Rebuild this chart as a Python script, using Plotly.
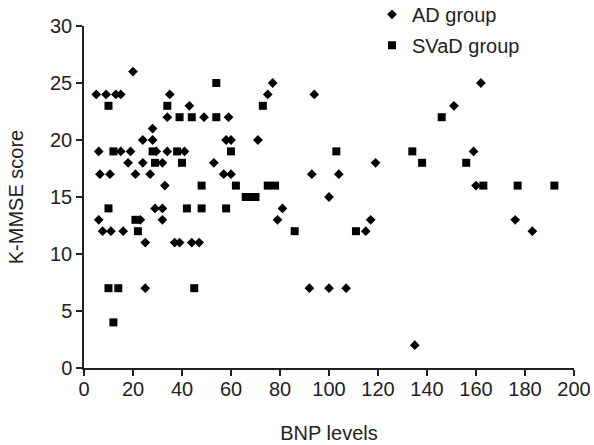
import plotly.graph_objects as go

# AD group (diamonds)
ad_x = [20, 5, 9, 13, 15, 35, 75, 94, 162, 77,
        43, 151,
        34, 49, 59,
        28,
        24, 28, 58, 60, 71,
        6, 15, 19, 29.5, 34, 41, 159,
        18, 24, 32, 53, 119,
        6.5, 10.6, 21, 27, 57, 60, 93, 104,
        33, 160,
        100,
        29, 32, 81,
        6, 23, 32, 79, 117, 176,
        7.6, 11, 16, 115, 183,
        25, 37, 39, 44, 47,
        25, 92, 100, 107,
        135]
ad_y = [26, 24, 24, 24, 24, 24, 24, 24, 25, 25,
        23, 23,
        22, 22, 22,
        21,
        20, 20, 20, 20, 20,
        19, 19, 19, 19, 19, 19, 19,
        18, 18, 18, 18, 18,
        17, 17, 17, 17, 17, 17, 17, 17,
        16, 16,
        15,
        14, 14, 14,
        13, 13, 13, 13, 13, 13,
        12, 12, 12, 12, 12,
        11, 11, 11, 11, 11,
        7, 7, 7, 7,
        2]

# SVaD group (squares)
svad_x = [54,
          10, 34, 73,
          39, 44, 54, 146,
          12, 28, 38, 60, 103, 134,
          29, 40, 138, 156,
          48, 62, 75, 78, 163, 177, 192,
          66, 68, 70,
          10, 42, 48, 58,
          21,
          22, 86, 111,
          10, 14, 45,
          12]
svad_y = [25,
          23, 23, 23,
          22, 22, 22, 22,
          19, 19, 19, 19, 19, 19,
          18, 18, 18, 18,
          16, 16, 16, 16, 16, 16, 16,
          15, 15, 15,
          14, 14, 14, 14,
          13,
          12, 12, 12,
          7, 7, 7,
          4]

x_ticks = list(range(0, 201, 20))
y_ticks = list(range(0, 31, 5))

font = dict(family="Liberation Sans, Arial, sans-serif", size=20, color="#222222")

fig = go.Figure()
fig.add_trace(go.Scatter(x=ad_x, y=ad_y, mode="markers", name="AD group",
                         legendgroup="ad",
                         marker=dict(symbol="diamond", size=7.5, color="black")))
fig.add_trace(go.Scatter(x=svad_x, y=svad_y, mode="markers", name="SVaD group",
                         legendgroup="svad",
                         marker=dict(symbol="square", size=8, color="black")))

fig.update_layout(
    width=594, height=445,
    margin=dict(l=84, r=20, t=0, b=77, autoexpand=False),
    paper_bgcolor="white", plot_bgcolor="white",
    font=font,
    showlegend=True,
    legend=dict(x=(372 - 84) / 490, y=1.014, xanchor="left", yanchor="top",
                bgcolor="rgba(0,0,0,0)", font=font,
                tracegroupgap=2, traceorder="grouped",
                itemwidth=30),
)
fig.update_xaxes(range=[0, 200], tickvals=x_ticks, ticktext=[str(v) for v in x_ticks],
                 domain=[0, 1],
                 showline=True, linecolor="#222222", linewidth=1.5,
                 ticks="outside", ticklen=6, tickcolor="#222222", tickwidth=1.5,
                 ticklabelstandoff=-4,
                 showgrid=False, zeroline=False, automargin=False,
                 title=dict(text="BNP levels", font=font, standoff=27))
fig.update_yaxes(range=[0, 30], tickvals=y_ticks, ticktext=[str(v) for v in y_ticks],
                 domain=[0, (368 - 26) / 368],
                 showline=True, linecolor="#222222", linewidth=1.5,
                 ticks="outside", ticklen=6, tickcolor="#222222", tickwidth=1.5,
                 showgrid=False, zeroline=False, automargin=False,
                 title=dict(text="K-MMSE score", font=font, standoff=21))

fig.write_html("out.html")
